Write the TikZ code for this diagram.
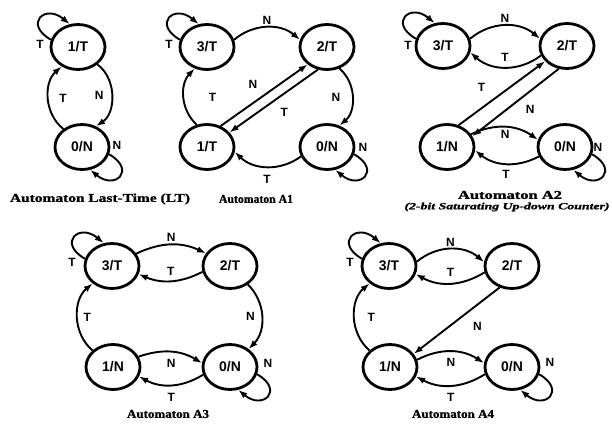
\documentclass[tikz,border=0pt]{standalone}
\usepackage{fontspec}
\setmainfont{Liberation Sans}
\newfontfamily\capfont[FakeBold=1.2]{Liberation Serif}
\usetikzlibrary{arrows.meta,shapes.geometric}

\tikzset{
  state/.style={ellipse, draw, line width=2.8bp, minimum width=54bp, minimum height=45bp,
    inner sep=0pt, font=\fontsize{14}{14}\selectfont\bfseries},
  edge/.style={line width=1.9bp, -{Latex[length=9bp,width=6.5bp]}},
  lbl/.style={font=\fontsize{12}{12}\selectfont\bfseries, inner sep=2bp},
  ulloop/.style={out=150, in=140, distance=32bp},
  drloop/.style={out=-30, in=-40, distance=32bp},
}
\newcommand{\capbox}[2]{\resizebox{#1}{\height}{\capfont\fontsize{12}{12}\selectfont\bfseries #2}}
\newcommand{\subbox}[2]{\resizebox{#1}{\height}{\capfont\fontsize{9.5}{9.5}\selectfont\bfseries\itshape #2}}

\begin{document}
\begin{tikzpicture}[x=1bp,y=1bp]
    \useasboundingbox (0,0) rectangle (612,423);

    % Automaton Last-Time
    \node[state] (lt1) at (78,376) {1/T};
    \node[state] (lt0) at (82,276) {0/N};
    \draw[edge] (lt1.165) to[ulloop] (lt1.110);
    \node[lbl] (lt1-t) at ([shift={(-38,3)}]lt1.center) {T};
    \draw[edge] (lt1.-42) to[bend left=55] node[lbl,left=5bp] {N} (lt0.56);
    \draw[edge] (lt0.136) to[bend left=50] node[lbl,right=8bp] {T} (lt1.230);
    \draw[edge] (lt0.-15) to[drloop] (lt0.-70);
    \node[lbl] (lt0-n) at ([shift={(35,2)}]lt0.center) {N};
    \node (lt-cap) at (100,224) {\capbox{180bp}{Automaton Last-Time (LT)}};

    % Automaton A1
    \node[state] (a1-3) at (207,376) {3/T};
    \node[state] (a1-2) at (327,376) {2/T};
    \node[state] (a1-1) at (207,276) {1/T};
    \node[state] (a1-0) at (327,276) {0/N};
    \draw[edge] (a1-3.165) to[ulloop] (a1-3.110);
    \node[lbl] (a1-3t) at ([shift={(-38,3)}]a1-3.center) {T};
    \draw[edge] (a1-3.15) to[bend left=40] node[lbl,above] {N} (a1-2.165);
    \draw[edge] (a1-2.-60) to[bend left=50] node[lbl,left=9bp] {N} (a1-0.60);
    \draw[edge] (a1-0.-15) to[drloop] (a1-0.-70);
    \node[lbl] (a1-0n) at ([shift={(36,0)}]a1-0.center) {N};
    \draw[edge] (a1-0.200) to[bend left=40] node[lbl,below=6bp] {T} (a1-1.350);
    \draw[edge] (a1-1.115) to[bend left=45] node[lbl,right=22bp] {T} (a1-3.240);
    \draw[edge] (a1-1.57) -- node[lbl,above left=4bp] {N} (a1-2.222);
    \draw[edge] (a1-2.248) -- node[lbl,below right=4bp] {T} (a1-1.33);
    \node (a1-cap) at (256,224) {\capbox{74bp}{Automaton A1}};

    % Automaton A2
    \node[state] (a2-3) at (443,377) {3/T};
    \node[state] (a2-2) at (567,377) {2/T};
    \node[state] (a2-1) at (447,276) {1/N};
    \node[state] (a2-0) at (565,276) {0/N};
    \draw[edge] (a2-3.165) to[ulloop] (a2-3.110);
    \node[lbl] (a2-3t) at ([shift={(-35,1)}]a2-3.center) {T};
    \draw[edge] (a2-3.15) to[bend left=40] node[lbl,above] {N} (a2-2.165);
    \draw[edge] (a2-2.200) to[bend left=40] node[lbl,above=3bp] {T} (a2-3.347);
    \draw[edge] (a2-1.62) -- node[lbl,pos=0.4,above left=5bp] {T} (a2-2.215);
    \draw[edge] (a2-2.250) -- node[lbl,pos=0.45,below right=3bp] {N} (a2-1.23);
    \draw[edge] (a2-1.28) to[bend left=30] node[lbl,below] {N} (a2-0.165);
    \draw[edge] (a2-0.200) to[bend left=33] node[lbl,below=4bp] {T} (a2-1.353);
    \draw[edge] (a2-0.-15) to[drloop] (a2-0.-70);
    \node[lbl] (a2-0n) at ([shift={(33,0)}]a2-0.center) {N};
    \node (a2-cap) at (510,228) {\capbox{104bp}{Automaton A2}};
    \node (a2-sub) at (507,216) {\subbox{205bp}{(2-bit Saturating Up-down Counter)}};

    % Automaton A3
    \node[state] (a3-3) at (112,157) {3/T};
    \node[state] (a3-2) at (230,157) {2/T};
    \node[state] (a3-1) at (113,56) {1/N};
    \node[state] (a3-0) at (230,56) {0/N};
    \draw[edge] (a3-3.165) to[ulloop] (a3-3.110);
    \node[lbl] (a3-3t) at ([shift={(-40,4)}]a3-3.center) {T};
    \draw[edge] (a3-3.27) to[bend left=25] node[lbl,above] {N} (a3-2.152);
    \draw[edge] (a3-2.192) to[bend left=25] node[lbl,above=2bp] {T} (a3-3.343);
    \draw[edge] (a3-2.-46) to[bend left=45] node[lbl,left=4bp] {N} (a3-0.44);
    \draw[edge] (a3-0.-15) to[drloop] (a3-0.-70);
    \node[lbl] (a3-0n) at ([shift={(38,4)}]a3-0.center) {N};
    \draw[edge] (a3-1.22) to[bend left=25] node[lbl,below=4bp] {N} (a3-0.172);
    \draw[edge] (a3-0.196) to[bend left=30] node[lbl,below=5bp] {T} (a3-1.340);
    \draw[edge] (a3-1.141) to[bend left=50] node[lbl,right=3bp] {T} (a3-3.222);
    \node (a3-cap) at (168,9) {\capbox{82bp}{Automaton A3}};

    % Automaton A4
    \node[state] (a4-3) at (389,157) {3/T};
    \node[state] (a4-2) at (512,157) {2/T};
    \node[state] (a4-1) at (390,56) {1/N};
    \node[state] (a4-0) at (512,56) {0/N};
    \draw[edge] (a4-3.165) to[ulloop] (a4-3.110);
    \node[lbl] (a4-3t) at ([shift={(-39,4)}]a4-3.center) {T};
    \draw[edge] (a4-3.9) to[bend left=40] node[lbl,above] {N} (a4-2.172);
    \draw[edge] (a4-2.193) to[bend left=30] node[lbl,above=4bp] {T} (a4-3.343);
    \draw[edge] (a4-2.240) -- node[lbl,pos=0.4,below right=5bp] {N} (a4-1.29);
    \draw[edge] (a4-1.141) to[bend left=50] node[lbl,right=10bp] {T} (a4-3.222);
    \draw[edge] (a4-1.15) to[bend left=30] node[lbl,below=4bp] {N} (a4-0.172);
    \draw[edge] (a4-0.195) to[bend left=30] node[lbl,below=5bp] {T} (a4-1.340);
    \draw[edge] (a4-0.-15) to[drloop] (a4-0.-70);
    \node[lbl] (a4-0n) at ([shift={(38,5)}]a4-0.center) {N};
    \node (a4-cap) at (453,9) {\capbox{82bp}{Automaton A4}};
\end{tikzpicture}
\end{document}
